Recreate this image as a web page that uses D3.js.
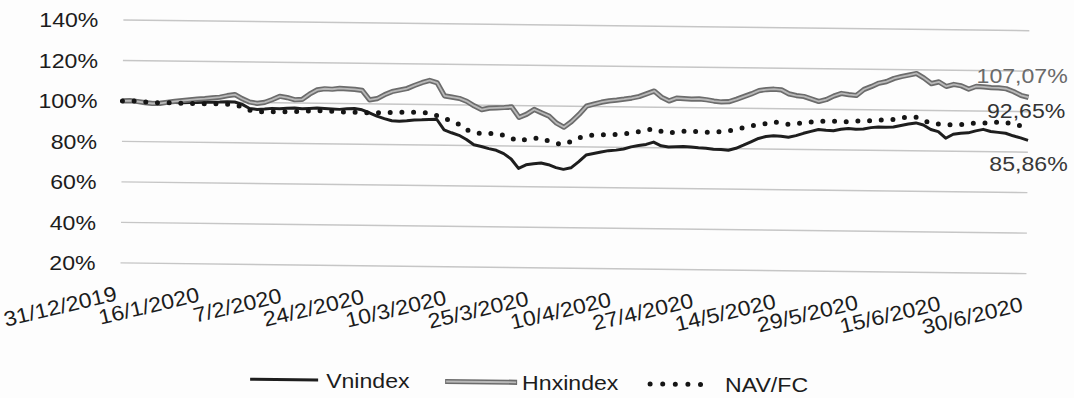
<!DOCTYPE html>
<html>
<head>
<meta charset="utf-8">
<script src="https://cdn.jsdelivr.net/npm/d3@7"></script>
<style>
  html, body { margin: 0; padding: 0; background: #fdfdfd; }
  svg { display: block; }
</style>
</head>
<body>
<svg id="chart" width="1074" height="398"></svg>
<script>
// Date labels shown on the category axis (one every 11 trading sessions)
const tickLabels = ["31/12/2019", "16/1/2020", "7/2/2020", "24/2/2020", "10/3/2020", "25/3/2020",
                    "10/4/2020", "27/4/2020", "14/5/2020", "29/5/2020", "15/6/2020", "30/6/2020"];
const tickStep = 11;

// Percentage gridlines
const yTicks = [20, 40, 60, 80, 100, 120, 140];

// Series, % of the 31/12/2019 level, one value per trading session
const vnindex = [
  100, 100.2, 99.8, 99.4, 99.1, 99.3, 99.6, 99.5, 99.4, 99.6,
  99.7, 99.8, 99.9, 100.0, 100.2, 100.1, 99.0, 97.0, 96.6, 96.8,
  97.2, 97.0, 97.3, 97.5, 97.2, 97.4, 97.6, 97.5, 97.3, 97.1,
  97.4, 97.6, 97.0, 95.6, 94.0, 92.8, 91.8, 91.6, 91.9, 92.3,
  92.4, 92.6, 92.8, 87.6, 86.2, 85.0, 83.0, 80.4, 79.6, 78.6,
  77.8, 76.2, 73.6, 69.0, 70.8, 71.4, 71.8, 71.0, 69.6, 68.8,
  69.6, 72.6, 76.0, 76.8, 77.6, 78.3, 78.6, 79.2, 80.3, 81.0,
  81.6, 82.8, 81.0, 80.4, 80.6, 80.8, 80.6, 80.2, 80.0, 79.6,
  79.5, 79.2, 80.2, 81.8, 83.5, 85.2, 86.2, 86.6, 86.4, 86.0,
  86.8, 88.0, 89.0, 90.0, 89.6, 89.4, 90.2, 90.6, 90.3, 90.5,
  91.2, 91.6, 91.5, 91.6, 92.4, 93.2, 93.8, 92.8, 90.6, 89.6,
  86.4, 88.4, 89.0, 89.2, 90.2, 91.0, 90.0, 89.6, 89.2, 88.0,
  87.0, 85.86
];
const hnxindex = [
  100, 100.2, 99.8, 99.3, 98.9, 99.0, 99.6, 100.1, 100.5, 100.9,
  101.3, 101.6, 102.0, 102.4, 103.2, 103.8, 101.8, 100.2, 99.6, 100.1,
  101.5, 103.2, 102.6, 101.6, 101.8, 104.5, 106.6, 107.2, 107.0, 107.5,
  107.3, 107.1, 106.6, 102.0, 102.6, 104.6, 106.2, 107.0, 107.8, 109.4,
  110.8, 111.9, 110.8, 104.4, 103.8, 103.2, 101.8, 99.6, 97.8, 98.6,
  98.8, 99.0, 99.3, 94.2, 95.8, 98.2, 96.6, 95.0, 91.6, 89.6,
  92.4, 96.0, 100.2, 101.2, 102.2, 102.9, 103.3, 103.8, 104.4, 105.2,
  106.6, 108.0, 105.0, 103.2, 104.6, 104.4, 104.2, 104.4, 104.0, 103.4,
  103.0, 103.2, 104.4, 105.8, 107.2, 108.8, 109.4, 109.6, 109.3, 107.4,
  106.6, 106.2, 105.0, 103.8, 104.8, 106.6, 107.9, 107.4, 107.0, 110.0,
  111.5, 113.2, 114.0, 115.6, 116.6, 117.4, 118.2, 116.0, 113.3, 114.2,
  112.0, 113.0, 112.4, 110.8, 112.2, 112.0, 111.7, 111.6, 111.2, 109.8,
  108.0, 107.07
];
const navfc = [
  100, 100.1, 99.9, 99.7, 99.4, 99.3, 99.4, 99.3, 99.2, 99.2,
  99.1, 99.1, 99.2, 99.1, 99.0, 98.8, 97.8, 96.2, 95.6, 95.4,
  95.6, 95.5, 95.6, 95.8, 95.9, 96.1, 96.3, 96.2, 96.1, 95.9,
  95.8, 95.8, 95.7, 95.6, 95.7, 95.8, 95.9, 96.0, 96.0, 96.1,
  96.0, 95.8, 94.6, 93.0, 92.3, 90.4, 87.8, 86.4, 86.0, 86.0,
  86.2, 85.2, 83.8, 82.4, 83.4, 83.9, 84.1, 82.6, 81.6, 81.1,
  82.6, 84.4, 85.7, 85.8, 86.0, 86.2, 86.3, 86.6, 87.2, 87.8,
  88.6, 89.4, 88.2, 87.3, 88.0, 88.3, 88.6, 88.0, 88.0, 88.1,
  88.4, 88.8, 89.6, 90.4, 91.4, 92.0, 92.6, 93.6, 92.8, 92.4,
  92.8, 93.2, 93.6, 94.0, 94.2, 94.2, 93.9, 94.0, 94.4, 94.5,
  94.6, 95.0, 95.1, 95.3, 96.2, 96.6, 96.6, 95.0, 93.8, 93.4,
  93.2, 93.1, 93.2, 93.6, 94.2, 94.2, 94.0, 94.8, 94.6, 93.4,
  93.0, 92.65
];
const seriesNames = ["Vnindex", "Hnxindex", "NAV/FC"];

const W = 1074, H = 398;
const FONT = "'Liberation Sans', Arial, Helvetica, sans-serif";
const FS = 21;          // font size of all chart text
const STRETCH = 1.1;    // glyphs are drawn a little wider than the default face
const INK = "#1c1c1c";
const TILT = 0.68;      // the printed page sits slightly tilted (degrees)
const LABEL_ANGLE = 14; // date labels climb at this angle (degrees)

const x = d3.scaleLinear().domain([0, vnindex.length - 1]).range([122, 1028]);
const y = d3.scaleLinear().domain([20, 140]).range([268.3, 25.3]);

// apply the page tilt to a point
const tr = TILT * Math.PI / 180, cx = 575, cy = 140;
const tilt = (px, py) => [cx + (px - cx) * Math.cos(tr) - (py - cy) * Math.sin(tr),
                          cy + (px - cx) * Math.sin(tr) + (py - cy) * Math.cos(tr)];

const svg = d3.select("#chart");
svg.append("rect").attr("width", W).attr("height", H).attr("fill", "#fdfdfd");
const g = svg.append("g");

const hText = (sel, px, py) => {
  const [tx, ty] = tilt(px, py);
  return sel.attr("transform", `translate(${tx},${ty}) scale(${STRETCH},1)`);
};

// ---- gridlines and value labels
const x0 = x.range()[0], x1 = x.range()[1];
g.append("g").selectAll("line").data(yTicks).join("line")
  .each(function (t) {
    const a = tilt(x0, y(t)), b = tilt(x1, y(t));
    d3.select(this).attr("x1", a[0]).attr("y1", a[1]).attr("x2", b[0]).attr("y2", b[1]);
  })
  .attr("stroke", "#c6c6c6").attr("stroke-width", 1.4);

g.append("g").selectAll("text").data(yTicks).join("text")
  .each(function (t) { hText(d3.select(this), x0 - 25, y(t)); })
  .attr("dy", "0.36em").attr("text-anchor", "end")
  .attr("fill", INK).attr("font-family", FONT).attr("font-size", FS)
  .text(t => t + "%");

// ---- slanted date labels, each ending at its tick
const tickIdx = tickLabels.map((_, k) => k * tickStep);
g.append("g").selectAll("text").data(tickIdx).join("text")
  .attr("transform", idx => {
    const [ax, ay] = tilt(x(idx) - 2, 305.5);
    return `translate(${ax},${ay}) rotate(${-(LABEL_ANGLE - TILT)}) scale(${STRETCH},1)`;
  })
  .attr("text-anchor", "end")
  .attr("fill", INK).attr("font-family", FONT).attr("font-size", FS)
  .text((idx, k) => tickLabels[k]);

// ---- series
const line = d3.line()
  .x((d, i) => tilt(x(i), y(d))[0])
  .y((d, i) => tilt(x(i), y(d))[1]);
const plot = g.append("g");

plot.append("path").datum(vnindex).attr("d", line)
  .attr("fill", "none").attr("stroke", "#1e1e1e").attr("stroke-width", 3)
  .attr("stroke-linejoin", "round");

plot.append("path").datum(hnxindex).attr("d", line)
  .attr("fill", "none").attr("stroke", "#6c6c6c").attr("stroke-width", 5.2)
  .attr("stroke-linejoin", "round");
plot.append("path").datum(hnxindex).attr("d", line)
  .attr("fill", "none").attr("stroke", "#b9b9b9").attr("stroke-width", 1.8)
  .attr("stroke-linejoin", "round");

plot.append("path").datum(navfc).attr("d", line)
  .attr("fill", "none").attr("stroke", "#151515").attr("stroke-width", 5)
  .attr("stroke-linecap", "round").attr("stroke-dasharray", "0 11.7");

// ---- end-of-period values
const fmt = v => d3.format(".2f")(v).replace(".", ",") + "%";
const last = vnindex.length - 1;
const endLabels = [
  { v: hnxindex[last], dx: 39, dy: -14.8, color: "#6a6a6a" },
  { v: navfc[last],    dx: 37, dy: -9,    color: "#333333" },
  { v: vnindex[last],  dx: 40, dy: 30.5,  color: "#383838" }
];
g.append("g").selectAll("text").data(endLabels).join("text")
  .each(function (d) { hText(d3.select(this), x(last) + d.dx, y(d.v) + d.dy); })
  .attr("text-anchor", "end")
  .attr("fill", d => d.color).attr("font-family", FONT).attr("font-size", FS)
  .text(d => fmt(d.v));

// ---- legend
const legY = 383;
const legend = g.append("g");
const items = [
  { name: seriesNames[0], x0: 253, x1: 321, tx: 329, kind: "solid" },
  { name: seriesNames[1], x0: 448, x1: 520, tx: 525, kind: "double" },
  { name: seriesNames[2], x0: 653, x1: 716, tx: 728, kind: "dots" }
];
const segment = (sx0, sx1) => {
  const a = tilt(sx0, legY), b = tilt(sx1, legY);
  return legend.append("line").attr("x1", a[0]).attr("y1", a[1]).attr("x2", b[0]).attr("y2", b[1]);
};
items.forEach(it => {
  if (it.kind === "solid") {
    segment(it.x0, it.x1).attr("stroke", "#1e1e1e").attr("stroke-width", 3);
  } else if (it.kind === "double") {
    segment(it.x0, it.x1).attr("stroke", "#6c6c6c").attr("stroke-width", 5.2);
    segment(it.x0 + 1, it.x1 - 1).attr("stroke", "#b9b9b9").attr("stroke-width", 1.8);
  } else {
    segment(it.x0, it.x1).attr("stroke", "#151515").attr("stroke-width", 5)
      .attr("stroke-linecap", "round").attr("stroke-dasharray", "0 12.6");
  }
  hText(legend.append("text"), it.tx, legY)
    .attr("dy", "0.36em")
    .attr("fill", INK).attr("font-family", FONT).attr("font-size", FS)
    .text(it.name);
});
</script>
</body>
</html>
